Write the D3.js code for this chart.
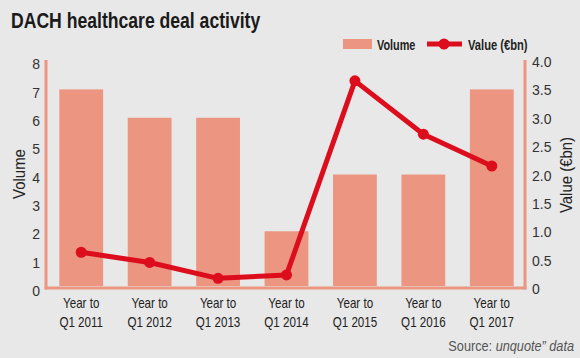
<!DOCTYPE html>
<html><head><meta charset="utf-8">
<script src="https://cdn.jsdelivr.net/npm/d3@7"></script>
<style>
html,body{margin:0;padding:0;background:#e8e8e8;}
svg{display:block;}
text{font-family:"Liberation Sans",Arial,sans-serif;fill:#222;}
</style></head>
<body>
<script>
const categories = ["Year to|Q1 2011","Year to|Q1 2012","Year to|Q1 2013","Year to|Q1 2014","Year to|Q1 2015","Year to|Q1 2016","Year to|Q1 2017"];
const volume = [7, 6, 6, 2, 4, 4, 7];
const value = [0.63, 0.45, 0.17, 0.23, 3.65, 2.71, 2.15];
const volumeTicks = [0,1,2,3,4,5,6,7,8];
const valueTicks = [0,0.5,1,1.5,2,2.5,3,3.5,4];
const valueTickLabels = ["0","0.5","1.0","1.5","2.0","2.5","3.0","3.5","4.0"];

(function(){
const W = 580, H = 358;
const barColor = "#ec9580", lineColor = "#dc0d1c", axisColor = "#ec9580";
const svg = d3.select("body").append("svg").attr("width", W).attr("height", H);
svg.append("rect").attr("width", W).attr("height", H).attr("fill", "#e8e8e8");

// condensed text helper
function ctext(parent, px, py, k, anchor) {
  return parent.append("g").attr("transform", `translate(${px},${py}) scale(${k},1)`)
    .append("text").attr("x", 0).attr("y", 0).attr("text-anchor", anchor || "start");
}

const pl = 47, pr = 526, pt = 61, pb = 288;
const x = d3.scaleBand().domain(categories).range([pl, pr]).paddingInner(0.36).paddingOuter(0.18);
const yL = d3.scaleLinear().domain([0, 8]).range([pb, pt]);
const yR = d3.scaleLinear().domain([0, 4]).range([pb, pt]);

ctext(svg, 11, 28, 0.8).text("DACH healthcare deal activity")
  .style("font-size", "22px").style("font-weight", "bold").style("fill", "#1a1a1a");

svg.append("g").selectAll("rect").data(volume).join("rect")
  .attr("x", (d, i) => x(categories[i]))
  .attr("y", d => yL(d))
  .attr("width", x.bandwidth())
  .attr("height", d => yL(0) - yL(d) - 2)
  .attr("fill", barColor);

const g = svg.append("g");
g.append("line").attr("x1", pl - 1).attr("x2", pl - 1).attr("y1", 60).attr("y2", pb + 1.5)
  .attr("stroke", axisColor).attr("stroke-width", 3);
g.append("line").attr("x1", pr - 1).attr("x2", pr - 1).attr("y1", 60).attr("y2", pb + 1.5)
  .attr("stroke", axisColor).attr("stroke-width", 3);
g.append("line").attr("x1", pl - 2.5).attr("x2", pr + 0.5).attr("y1", pb).attr("y2", pb)
  .attr("stroke", axisColor).attr("stroke-width", 3);

const axL = d3.axisLeft(yL).tickValues(volumeTicks).tickSize(0).tickPadding(0).tickFormat(d3.format("d"));
const gl = svg.append("g").attr("transform", `translate(${40},0)`).call(axL);
gl.select(".domain").remove();
gl.selectAll("text").style("font-size", "14px").style("font-family", "'Liberation Sans',Arial,sans-serif").attr("dy", "0.55em").style("fill", "#333");

const axR = d3.axisRight(yR).tickValues(valueTicks).tickSize(0).tickPadding(0).tickFormat((d, i) => valueTickLabels[i]);
const gr = svg.append("g").attr("transform", `translate(${532},0)`).call(axR);
gr.select(".domain").remove();
gr.selectAll("text").style("font-size", "14px").style("font-family", "'Liberation Sans',Arial,sans-serif").attr("dy", "0.4em").style("fill", "#333");

const gx = svg.append("g");
categories.forEach(c => {
  const parts = c.split("|");
  const cx = x(c) + x.bandwidth() / 2;
  ctext(gx, cx, 308, 0.8, "middle").style("font-size", "14.5px").style("fill", "#222").text(parts[0]);
  ctext(gx, cx, 327, 0.8, "middle").style("font-size", "14.5px").style("fill", "#222").text(parts[1]);
});

svg.append("g").attr("transform", `translate(25,174) rotate(-90)`)
  .append("g").attr("transform", "scale(0.88,1)")
  .append("text").attr("text-anchor", "middle")
  .style("font-size", "17px").style("fill", "#222").text("Volume");
svg.append("g").attr("transform", `translate(572,175) rotate(-90)`)
  .append("g").attr("transform", "scale(0.88,1)")
  .append("text").attr("text-anchor", "middle")
  .style("font-size", "17px").style("fill", "#222").text("Value (€bn)");

const line = d3.line().x((d, i) => x(categories[i]) + x.bandwidth() / 2).y(d => yR(d));
svg.append("path").datum(value).attr("d", line).attr("fill", "none")
  .attr("stroke", lineColor).attr("stroke-width", 5).attr("stroke-linejoin", "round");
svg.append("g").selectAll("circle").data(value).join("circle")
  .attr("cx", (d, i) => x(categories[i]) + x.bandwidth() / 2)
  .attr("cy", d => yR(d)).attr("r", 5.5).attr("fill", lineColor);

const lg = svg.append("g");
lg.append("rect").attr("x", 343).attr("y", 39).attr("width", 29).attr("height", 10).attr("fill", barColor);
ctext(lg, 377, 49.5, 0.75).text("Volume").style("font-size", "14.5px").style("font-weight", "bold").style("fill", "#222");
lg.append("line").attr("x1", 427).attr("x2", 462).attr("y1", 44).attr("y2", 44).attr("stroke", lineColor).attr("stroke-width", 5);
lg.append("circle").attr("cx", 444).attr("cy", 44).attr("r", 5.5).attr("fill", lineColor);
ctext(lg, 468, 49.5, 0.77).text("Value (€bn)").style("font-size", "14.5px").style("font-weight", "bold").style("fill", "#222");

const s = ctext(svg, 574, 351, 0.82, "end").style("font-size", "15.5px").style("fill", "#555");
s.append("tspan").text("Source: ");
s.append("tspan").style("font-style", "italic").text("unquote\u201D data");
})();
</script>
</body></html>
